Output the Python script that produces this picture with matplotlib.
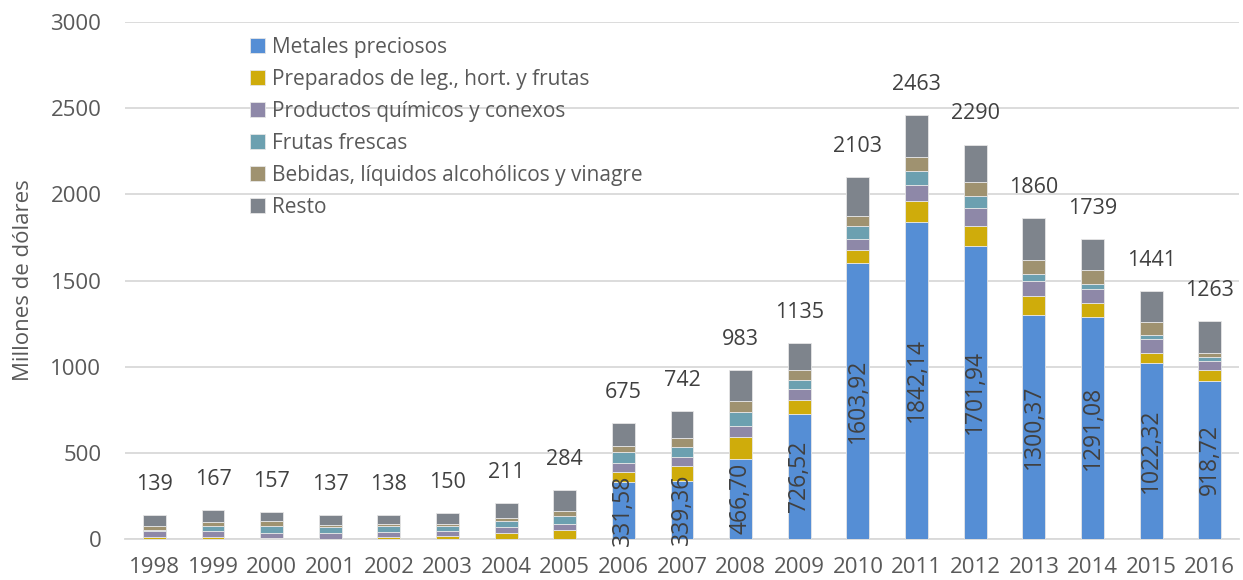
import numpy as np
import matplotlib
matplotlib.use("Agg")
from matplotlib import pyplot

# ----------------------
# datos (millones de dolares)
# ----------------------
years = ["1998", "1999", "2000", "2001", "2002", "2003", "2004", "2005", "2006",
         "2007", "2008", "2009", "2010", "2011", "2012", "2013", "2014", "2015", "2016"]

metales = [0, 0, 0, 0, 0, 0, 0, 0, 331.58,
           339.36, 466.70, 726.52, 1603.92, 1842.14, 1701.94, 1300.37, 1291.08, 1022.32, 918.72]
preparados = [10, 14, 6, 2, 10, 16, 32, 51, 58,
              86, 123, 80, 72, 117, 115, 107, 77, 55, 61]
quimicos = [34, 32, 30, 32, 30, 29, 36, 36, 49,
            52, 67, 64, 64, 96, 101, 92, 83, 85, 54]
frutas = [8, 30, 38, 34, 35, 31, 38, 44, 67,
          57, 81, 54, 74, 81, 70, 37, 31, 19, 20]
bebidas = [24, 24, 28, 16, 13, 13, 15, 32, 35,
           50, 62, 58, 61, 78, 83, 85, 81, 76, 25]
resto = [63, 67, 55, 53, 50, 61, 90, 121, 134.4,
         157.6, 183.3, 152.5, 228.1, 248.9, 218.1, 238.6, 175.9, 183.7, 184.3]

totales = [139, 167, 157, 137, 138, 150, 211, 284, 675,
           742, 983, 1135, 2103, 2463, 2290, 1860, 1739, 1441, 1263]

# etiquetas dentro de las barras azules
etiquetas_metales = ["", "", "", "", "", "", "", "", "331,58",
                     "339,36", "466,70", "726,52", "1603,92", "1842,14", "1701,94",
                     "1300,37", "1291,08", "1022,32", "918,72"]

series = [
    ("Metales preciosos", metales, "#558ED5"),
    ("Preparados de leg., hort. y frutas", preparados, "#CFAC0B"),
    ("Productos químicos y conexos", quimicos, "#8E88A8"),
    ("Frutas frescas", frutas, "#6CA0B0"),
    ("Bebidas, líquidos alcohólicos y vinagre", bebidas, "#9F9270"),
    ("Resto", resto, "#7E848C"),
]

pyplot.rcParams["font.family"] = ["Open Sans", "DejaVu Sans"]

fig = pyplot.figure(figsize=(12.43, 5.8), dpi=100)
ax = fig.add_axes([0.1006, 0.0707, 0.8962, 0.8913])

x = np.arange(len(years))
bottom = np.zeros(len(years))
for name, vals, color in series:
    vals = np.array(vals, dtype=float)
    ax.bar(x, vals, width=0.39, bottom=bottom, color=color, label=name,
           edgecolor="#e6e6e6", linewidth=0.6, zorder=3)
    bottom = bottom + vals

# etiquetas verticales en metales preciosos
for i in range(len(years)):
    if etiquetas_metales[i] != "":
        ax.text(x[i], metales[i] / 2, etiquetas_metales[i], rotation=90,
                ha="center", va="center", fontsize=16.5, color="#404040", zorder=4)

# totales encima de cada barra
for i in range(len(years)):
    ax.annotate(str(totales[i]), (x[i], bottom[i]), xytext=(0, 22),
                textcoords="offset points", ha="center", va="center",
                fontsize=15.5, color="#404040")

ax.set_xlim(-0.5, len(years) - 0.5)
ax.set_ylim(0, 3000)
ax.set_yticks(np.arange(0, 3001, 500))
ax.set_xticks(x)
ax.set_xticklabels(years)
ax.tick_params(axis="both", length=0, labelsize=16, colors="#595959")
ax.tick_params(axis="y", pad=17)
ax.tick_params(axis="x", pad=13)
ax.yaxis.grid(True, color="#d9d9d9", linewidth=1.3, zorder=0)
ax.set_axisbelow(True)
for s in ["top", "right", "left"]:
    ax.spines[s].set_visible(False)
ax.spines["bottom"].set_color("#d9d9d9")
ax.spines["bottom"].set_linewidth(1.3)

ax.set_ylabel("Millones de dólares", fontsize=16, color="#595959", labelpad=12)

ax.legend(loc="upper left", bbox_to_anchor=(0.105, 0.988), frameon=False,
          fontsize=15, labelcolor="#595959", handlelength=0.7, handleheight=0.7,
          handletextpad=0.35, labelspacing=0.53, borderaxespad=0)

fig.savefig("out.png", dpi=100)
